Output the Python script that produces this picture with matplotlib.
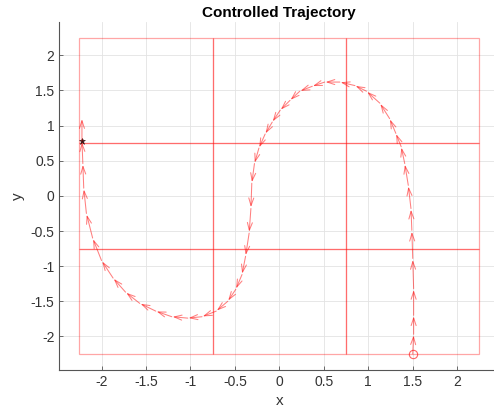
#Controlled trajectory through a 3x3 grid of cells
import numpy as np
import matplotlib.pyplot as plt
from matplotlib.patches import Rectangle

plt.rcParams['font.family'] = ['Liberation Sans', 'DejaVu Sans']

# cell edges of the grid
cell_edges = [-2.25, -0.75, 0.75, 2.25]

# trajectory samples
traj_x = [1.50, 1.51, 1.51, 1.51, 1.50, 1.49, 1.48, 1.45, 1.41, 1.37,
          1.31, 1.24, 1.13, 0.98, 0.85, 0.68, 0.51, 0.37, 0.23, 0.12,
          0.01, -0.08, -0.16, -0.23, -0.28, -0.31, -0.32, -0.34, -0.38, -0.42,
          -0.49, -0.58, -0.71, -0.87, -1.03, -1.21, -1.39, -1.57, -1.73, -1.87,
          -2.00, -2.10, -2.17, -2.20, -2.21, -2.22]
traj_y = [-2.25, -1.97, -1.70, -1.32, -0.89, -0.49, -0.18, 0.15, 0.46, 0.70,
          0.89, 1.10, 1.32, 1.49, 1.57, 1.62, 1.62, 1.56, 1.49, 1.36,
          1.22, 1.05, 0.88, 0.68, 0.46, 0.18, -0.18, -0.53, -0.86, -1.12,
          -1.33, -1.50, -1.64, -1.72, -1.74, -1.72, -1.64, -1.53, -1.37, -1.17,
          -0.92, -0.60, -0.25, 0.11, 0.46, 0.78]

# last arrow (heading at the end point)
end_u, end_v = 0.0, 0.33

tx = np.array(traj_x)
ty = np.array(traj_y)
u = np.append(np.diff(tx), end_u)
v = np.append(np.diff(ty), end_v)

fig = plt.figure(figsize=(4.94, 4.15), dpi=100)
ax = fig.add_axes([0.120, 0.109, 0.891, 0.838])

# grid cells
for i in range(3):
    for j in range(3):
        ax.add_patch(Rectangle((cell_edges[i], cell_edges[j]),
                               cell_edges[i+1]-cell_edges[i],
                               cell_edges[j+1]-cell_edges[j],
                               fill=False, edgecolor='red', alpha=0.35, lw=0.9))

# velocity arrows along the path
k = 0.95
for x0, y0, du, dv in zip(tx, ty, u, v):
    ax.annotate('', xy=(x0+k*du, y0+k*dv), xytext=(x0, y0),
                arrowprops=dict(arrowstyle='->,head_length=0.55,head_width=0.18',
                                color='red', alpha=0.5, lw=0.75,
                                shrinkA=0, shrinkB=0))

ax.plot(tx[0], ty[0], 'o', mfc='none', mec='red', ms=6, alpha=0.6, mew=0.8)
ax.plot(tx[-1], ty[-1], '*', color='#301010', ms=5, mew=0.4)

ax.set_xlim(-2.475, 2.475)
ax.set_ylim(-2.475, 2.475)
ax.set_xticks(np.arange(-2, 2.01, 0.5))
ax.set_yticks(np.arange(-2, 2.01, 0.5))
ax.set_xticklabels(['-2', '-1.5', '-1', '-0.5', '0', '0.5', '1', '1.5', '2'])
ax.set_yticklabels(['-2', '-1.5', '-1', '-0.5', '0', '0.5', '1', '1.5', '2'])
ax.grid(True, color='#e3e3e3', lw=0.6)
ax.set_axisbelow(True)
for s in ['top', 'right']:
    ax.spines[s].set_visible(False)
for s in ['left', 'bottom']:
    ax.spines[s].set_color('#555555')
    ax.spines[s].set_linewidth(0.8)
ax.tick_params(direction='in', length=3, width=0.6, colors='#555555',
               labelcolor='#333333', labelsize=10)

ax.set_title('Controlled Trajectory', fontsize=11, fontweight='bold', pad=3.5)
ax.set_xlabel('x', fontsize=11, color='#333333', labelpad=4)
ax.set_ylabel('y', fontsize=11, color='#333333', labelpad=4)

fig.savefig('out.png', dpi=100)
